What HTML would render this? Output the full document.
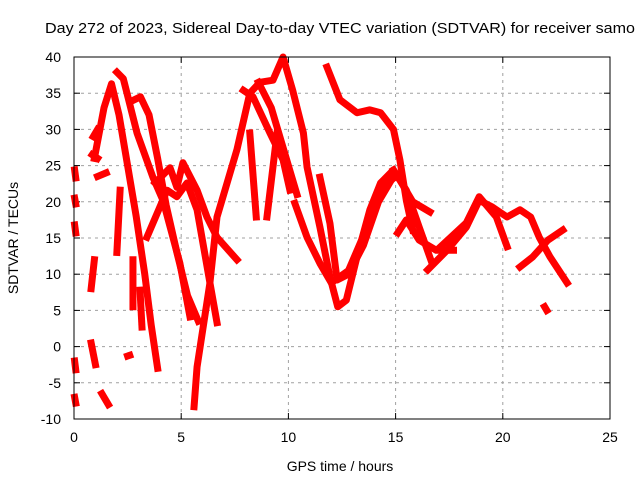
<!DOCTYPE html>
<html><head><meta charset="utf-8"><style>
body{margin:0;background:#fff;}
svg{display:block;font-family:"Liberation Sans",sans-serif;}
</style></head><body>
<svg id="chart" width="640" height="480" viewBox="0 0 640 480">
<text x="45" y="33" font-size="15" text-anchor="start" textLength="590" lengthAdjust="spacingAndGlyphs">Day 272 of 2023, Sidereal Day-to-day VTEC variation (SDTVAR) for receiver samo</text>
<g id="grid"></g>
<g id="ticks"></g>
<g id="series"></g>
<rect x="74" y="57" width="536" height="362" fill="none" stroke="#000" stroke-width="1"/>
<text x="340" y="471" font-size="14" text-anchor="middle">GPS time / hours</text>
<text transform="translate(18,238) rotate(-90)" font-size="14" text-anchor="middle">SDTVAR / TECUs</text>
</svg>
<script>
const xTicks=[0,5,10,15,20,25];
const yTicks=[-10,-5,0,5,10,15,20,25,30,35,40];
const track1=[[0.95,26],[1.4,33],[1.75,36.3],[2.1,32],[2.5,25],[2.9,18],[3.3,10],[3.6,3],[3.9,-3]];
const track2=[[2.0,37.9],[2.3,37],[2.94,29.5],[3.68,23.4],[4.15,20.2],[4.94,11.5],[5.41,4.1]];
const track3=[[2.75,34],[3.1,34.5],[3.5,32],[3.9,26],[4.3,19.5],[4.8,13],[5.3,7],[5.8,3.5]];
const track4=[[3.78,22.6],[4.48,24.7],[4.8,22],[5.08,25.4],[5.74,21.6],[6.2,17.9],[6.67,15.1],[7.6,12]];
const track5=[[3.4,15.1],[4.34,21.6],[4.8,20.7],[5.27,22.6],[5.74,18.9],[6.34,8.8],[6.67,3.3]];
const track6=[[5.6,-8.3],[5.74,-2.8],[6.34,8.8],[6.67,17.9],[7.14,22.6],[7.6,27.2],[8.2,35],[8.67,36.5],[9.28,36.8],[9.75,40],[10.2,35.4],[10.7,29.5],[10.87,24.8],[11.47,16.5],[11.94,9.6],[12.3,5.5],[12.7,6.4],[13.2,12.4],[13.8,18.9],[14.3,22.6],[14.9,24.4],[15.5,21.6],[16.1,16.5],[16.7,11.5]];
const track7=[[14.9,24.4],[15.2,23],[15.8,20],[16.6,18.6]];
const track8=[[7.9,35.4],[8.35,34.5],[9.14,29.5],[9.75,25.8],[10.07,21.6]];
const track9=[[8.6,36.5],[9.2,33],[9.6,29],[10.1,24],[10.4,21]];
const track10=[[8.2,29.5],[8.5,17.9]];
const track11=[[9.0,17.9],[9.47,29.5]];
const track12=[[11.8,38.6],[12.4,34.1],[13.2,32.3],[13.8,32.7],[14.3,32.3],[14.9,30],[15.2,25.8],[15.5,20.2],[15.8,16.1]];
const track13=[[11.47,23.4],[11.94,17],[12.27,9.2],[12.8,10],[13.5,14],[14.2,20],[14.8,23]];
const track14=[[10.3,19.8],[10.87,15.1],[11.47,11.5],[12,8.8],[12.8,10.5],[13.6,16],[14.4,22],[15,23.5]];
const track15=[[15.1,15.7],[15.5,17.5],[16.1,14.7],[16.9,13.3],[17.7,13.3]];
const track16=[[16.5,10.6],[17.4,13.3],[18.3,16.5],[18.9,20.2],[19.5,19.3],[20.2,17.9],[20.8,18.9],[21.3,17.9],[21.7,15.1],[22.2,12.4],[23,8.8]];
const track17=[[17.1,13.8],[18.3,17.1],[18.9,20.7],[19.7,17.9],[20.2,13.8]];
const track18=[[20.8,11],[21.4,12.4],[22.1,14.7],[22.8,16.1]];
const track19=[[0.9,29],[1.1,30]];
const track20=[[0.85,26.5],[1.1,26]];
const track21=[[1.1,23.5],[1.5,24]];
const track22=[[0.8,8],[0.95,12]];
const track23=[[0.8,0.5],[1.0,-2.5]];
const track24=[[1.3,-6.5],[1.6,-8]];
const track25=[[2.5,-1.3],[2.6,-1.2]];
const track26=[[0.03,24.4],[0.08,23.3]];
const track27=[[0.03,20.5],[0.08,19.7]];
const track28=[[0.03,16.8],[0.08,15.7]];
const track29=[[0.03,-2],[0.08,-3.2]];
const track30=[[0.03,-7],[0.08,-7.8]];
const track31=[[2.15,21.6],[2.0,13]];
const track32=[[2.75,12],[2.75,5.5]];
const track33=[[3.08,7.8],[3.17,2.7]];
const track34=[[21.95,5.5],[22.05,5]];
const tracks=[track1,track2,track3,track4,track5,track6,track7,track8,track9,track10,track11,track12,track13,track14,track15,track16,track17,track18,track19,track20,track21,track22,track23,track24,track25,track26,track27,track28,track29,track30,track31,track32,track33,track34];

const X0=74,X1=610,Y0=419,Y1=57;
const sx=v=>X0+(v-0)/(25-0)*(X1-X0);
const sy=v=>Y0-(v-(-10))/(40-(-10))*(Y0-Y1);
const NS="http://www.w3.org/2000/svg";
const grid=document.getElementById('grid'),ticks=document.getElementById('ticks'),series=document.getElementById('series');
function mk(tag,attrs,parent){const e=document.createElementNS(NS,tag);for(const k in attrs)e.setAttribute(k,attrs[k]);parent.appendChild(e);return e;}
xTicks.forEach(t=>{
  const x=sx(t);
  if(t>0&&t<25){const g=mk('line',{x1:x,x2:x,y1:Y0,y2:Y1,stroke:'#a0a0a0','stroke-dasharray':'3,4'},grid);
  
  }
  mk('line',{x1:x,x2:x,y1:Y0,y2:Y0-6,stroke:'#000'},ticks);
  mk('line',{x1:x,x2:x,y1:Y1,y2:Y1+6,stroke:'#000'},ticks);
  const l=mk('text',{x:x,y:Y0+23,'font-size':14,'text-anchor':'middle'},ticks);l.textContent=t;
  
  
});
yTicks.forEach(t=>{
  const y=sy(t);
  if(t>-10&&t<40){const g=mk('line',{x1:X0,x2:X1,y1:y,y2:y,stroke:'#a0a0a0','stroke-dasharray':'3,4'},grid);
  
  }
  mk('line',{x1:X0,x2:X0+6,y1:y,y2:y,stroke:'#000'},ticks);
  mk('line',{x1:X1,x2:X1-6,y1:y,y2:y,stroke:'#000'},ticks);
  const l=mk('text',{x:X0-13,y:y+5,'font-size':14,'text-anchor':'end'},ticks);l.textContent=t;
  
  
});
tracks.forEach((tr,i)=>{
  const p=mk('polyline',{points:tr.map(d=>sx(d[0])+','+sy(d[1])).join(' '),fill:'none',stroke:'#ff0000','stroke-width':7,'stroke-linejoin':'round','stroke-linecap':'square'},series);
  
  
});
</script>
</body></html>
